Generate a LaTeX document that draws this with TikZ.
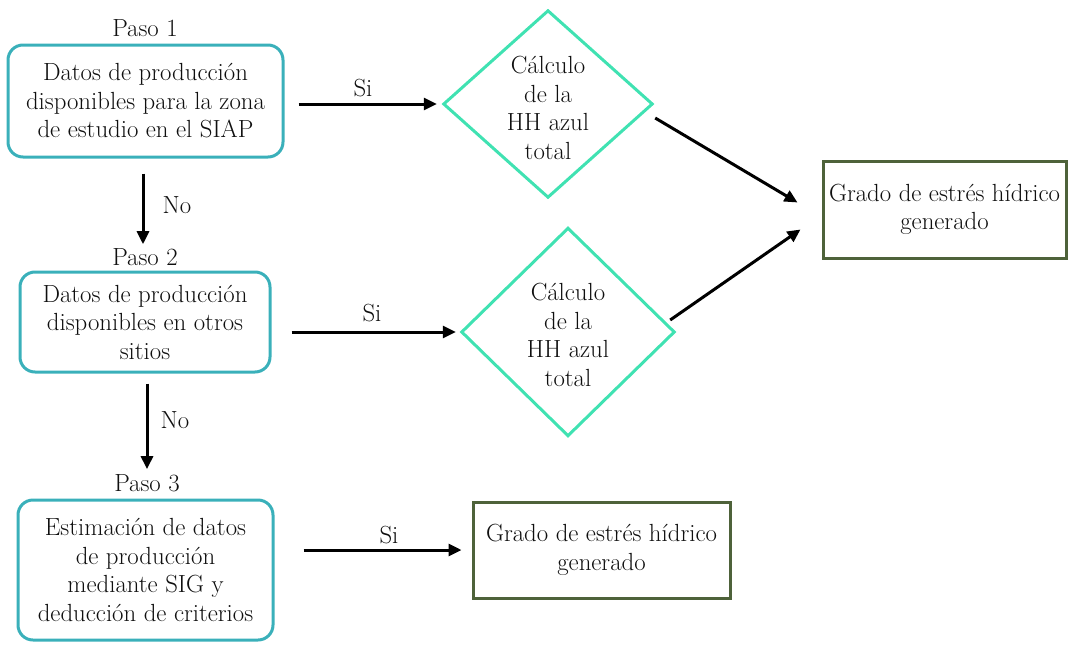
\documentclass[tikz,border=0pt]{standalone}
\usetikzlibrary{calc,arrows.meta}
\definecolor{tealbox}{RGB}{58,176,186}
\definecolor{diagreen}{RGB}{64,226,178}
\definecolor{olivebox}{RGB}{78,98,58}
\definecolor{inkc}{RGB}{15,15,15}
\begin{document}
\begin{tikzpicture}[x=1pt,y=-1pt,
  txt/.style={font=\rmfamily\fontsize{24.8}{28.5}\selectfont, align=center, inner sep=0pt, text=inkc},
  stepbox/.style={txt, draw=tealbox, line width=3pt, rounded corners=15pt},
  resbox/.style={txt, draw=olivebox, line width=3pt},
  diaholder/.style={txt},
  diaedge/.style={draw=diagreen, line width=3pt, line join=miter},
  arr/.style={draw=black, line width=3pt, -{Triangle[length=13pt,width=12pt]}},
  lbl/.style={font=\rmfamily\fontsize{24.8}{28.5}\selectfont, inner sep=0pt, text=inkc}
]
\useasboundingbox (0,0) rectangle (1068,645);

% step boxes
\node[stepbox, minimum width=275pt, minimum height=112pt] (b1) at (145.5,101)
  {Datos de producción\\disponibles para la zona\\de estudio en el SIAP};
\node[stepbox, minimum width=250pt, minimum height=100pt] (b2) at (145,322)
  {Datos de producción\\disponibles en otros\\sitios};
\node[stepbox, minimum width=255pt, minimum height=140pt] (b3) at (145.5,570)
  {Estimación de datos\\de producción\\mediante SIG y\\deducción de criterios};

% step labels
\node[lbl] (p1) at (145,28) {Paso 1};
\node[lbl] (p2) at (145,257) {Paso 2};
\node[lbl] (p3) at (147,483) {Paso 3};

% diamonds
\node[diaholder, minimum width=208pt, minimum height=186pt] (d1) at (548,104) {};
\path[diaedge] (d1.north) -- (d1.east) -- (d1.south) -- (d1.west) -- cycle;
\node[txt] (d1t) at (548,108) {Cálculo\\de la\\HH azul\\total};

\node[diaholder, minimum width=212pt, minimum height=207pt] (d2) at (568,332) {};
\path[diaedge] (d2.north) -- (d2.east) -- (d2.south) -- (d2.west) -- cycle;
\node[txt] (d2t) at (568,335) {Cálculo\\de la\\HH azul\\total};

% result boxes
\node[resbox, minimum width=243pt, minimum height=97pt] (g1) at (944.5,209.5)
  {Grado de estrés hídrico\\generado};
\node[resbox, minimum width=257pt, minimum height=96pt] (g2) at (601.5,550)
  {Grado de estrés hídrico\\generado};

% horizontal arrows
\draw[arr] ([xshift=14pt]b1.east |- d1.west) -- ([xshift=-7pt]d1.west);
\draw[arr] ([xshift=20pt]b2.east |- d2.west) -- ([xshift=-6pt]d2.west);
\draw[arr] ([xshift=29pt]b3.east |- g2.west) -- ([xshift=-10pt]g2.west);

\node[lbl] (s1) at (363,88) {Si};
\node[lbl] (s2) at (372,313) {Si};
\node[lbl] (s3) at (389,535) {Si};

% diagonal arrows
\draw[arr] ($(d1.east)+(3,14)$) -- ($(g1.west)+(-24,-7)$);
\draw[arr] ($(d2.east)+(-4,-12)$) -- ($(g1.west)+(-21,20)$);

% vertical arrows
\draw[arr] ($(b1.south)+(-2.5,15)$) -- ($(p2.north)+(-2,-4)$);
\draw[arr] ($(b2.south)+(2,10)$) -- ($(p3.north)+(0,-5)$);

\node[lbl] (n1) at (177,205) {No};
\node[lbl] (n2) at (175,420) {No};
\end{tikzpicture}
\end{document}
